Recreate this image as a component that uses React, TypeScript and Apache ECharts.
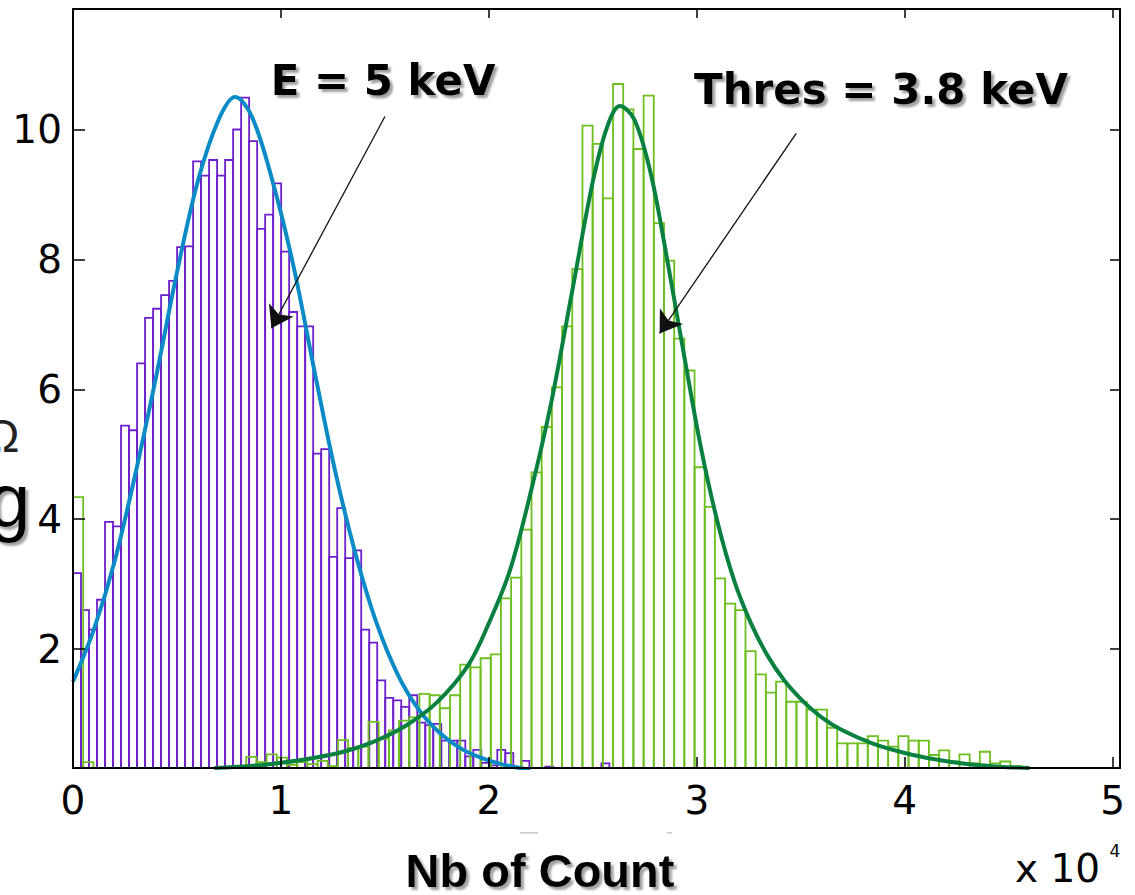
import React, { useEffect, useRef } from 'react';
import * as echarts from 'echarts';

// Histogram of the E = 5 keV data (purple), bins of 0.0385 (x 10^4) starting at 0
const purpleBinStart = 0;
const purpleBinWidth = 0.0385;
const purpleCounts = [
  3.17, 2.6, 2.3, 2.76, 3.96, 3.89, 5.44, 5.37, 6.4, 7.1,
  7.24, 7.45, 7.67, 8.19, 8.2, 9.51, 9.29, 9.53, 9.29, 9.53,
  10.0, 10.49, 9.82, 8.47, 8.69, 9.17, 8.12, 7.19, 6.97, 6.97,
  5.01, 5.08, 3.42, 4.17, 3.4, 3.52, 2.3, 2.1, 1.52, 1.25,
  1.21, 1.11, 1.29, 0.87, 0.83, 0.85, 0.59, 0.59, 0.59, 0.35,
  0.45, 0.25, 0.21, 0.45, 0.4, 0, 0.28, 0, 0, 0.19,
  0, 0, 0, 0, 0, 0, 0.24,
];

// Histogram of the Thres = 3.8 keV data (green), bins of 0.049 (x 10^4) starting at 0
const greenBinStart = 0;
const greenBinWidth = 0.049;
const greenCounts = [
  4.34, 0.26, 0, 0, 0, 0, 0, 0, 0, 0,
  0, 0, 0, 0, 0, 0, 0, 0.34, 0.26, 0.38,
  0.33, 0.22, 0.26, 0.23, 0.28, 0.2, 0.6, 0.48, 0.5, 0.88,
  0.62, 0.75, 0.9, 0.95, 1.31, 1.29, 1.09, 1.29, 1.76, 1.72,
  1.86, 1.92, 2.78, 3.1, 3.84, 4.72, 5.42, 6.03, 6.97, 7.85,
  10.06, 9.78, 8.94, 10.7, 10.31, 9.7, 10.52, 8.56, 7.98, 6.78,
  6.29, 4.8, 4.19, 3.09, 2.7, 2.6, 1.97, 1.61, 1.33, 1.5,
  1.19, 1.19, 1.07, 1.07, 0.79, 0.55, 0.55, 0.55, 0.66, 0.59,
  0.5, 0.66, 0.59, 0.59, 0.37, 0.44, 0.27, 0.38, 0.24, 0.42,
  0.24, 0.27, 0.2,
];

// Fitted curves
const blueFitX = [0, 0.1, 0.2, 0.3, 0.4, 0.5, 0.6, 0.7, 0.78, 0.86, 0.96, 1.06, 1.16, 1.26, 1.36, 1.46, 1.56, 1.66, 1.76, 1.86, 1.96, 2.06, 2.2];
const blueFitY = [1.5, 2.3, 3.35, 4.7, 6.2, 7.8, 9.2, 10.15, 10.5, 10.2, 9.2, 7.9, 6.3, 4.75, 3.45, 2.4, 1.62, 1.08, 0.72, 0.48, 0.33, 0.23, 0.14];

const greenFitX = [0.68, 0.85, 1.0, 1.15, 1.3, 1.45, 1.6, 1.75, 1.9, 2.0, 2.1, 2.2, 2.3, 2.4, 2.5, 2.57, 2.63, 2.7, 2.78, 2.86, 2.94, 3.02, 3.1, 3.18, 3.26, 3.34, 3.42, 3.51, 3.6, 3.7, 3.85, 4.0, 4.15, 4.3, 4.45, 4.6];
const greenFitY = [0.17, 0.2, 0.25, 0.32, 0.42, 0.58, 0.82, 1.18, 1.75, 2.4, 3.2, 4.4, 5.8, 7.5, 9.2, 10.05, 10.36, 10.15, 9.3, 7.95, 6.5, 5.1, 3.95, 3.05, 2.4, 1.9, 1.52, 1.2, 0.95, 0.75, 0.54, 0.4, 0.3, 0.23, 0.19, 0.17];

// Arrow annotations (data coordinates: [start], [tip])
const arrowE = [[1.5, 10.2], [0.954, 6.94]];
const arrowThres = [[3.478, 9.94], [2.821, 6.86]];

const xTicks = [0, 1, 2, 3, 4, 5];
const yTicks = [2, 4, 6, 8, 10];
const X_MIN = 0;
const X_MAX = 5.035;
const Y_MIN = 0.17;
const Y_MAX = 11.855;

const PURPLE = '#6C1FCB';
const LIGHTGREEN = '#6CBF1E';
const BLUE = '#0B8BC6';
const DARKGREEN = '#08803F';

function histSeries(name: string, counts: number[], start: number, width: number, color: string) {
  return {
    type: 'custom',
    name,
    clip: true,
    z: 2,
    data: counts.map((v, i) => [start + i * width, start + (i + 1) * width, v]),
    encode: { x: [0, 1], y: 2 },
    renderItem: (params: any, api: any) => {
      const v = api.value(2);
      if (!(v > Y_MIN)) return null;
      const a = api.coord([api.value(0), v]);
      const b = api.coord([api.value(1), 0]);
      return {
        type: 'rect',
        shape: { x: a[0], y: a[1], width: b[0] - a[0], height: b[1] - a[1] },
        style: { fill: 'none', stroke: color, lineWidth: 1.8 },
      };
    },
  };
}

const tickFont = { fontFamily: 'DejaVu Sans', fontSize: 39, color: '#000' };
const axisLineStyle = { color: '#000', width: 2 };
const textShadow = { textShadowColor: 'rgba(120,120,120,0.7)', textShadowOffsetX: 3, textShadowOffsetY: 3, textShadowBlur: 2 };

export default function App() {
  const ref = useRef<HTMLDivElement>(null);
  useEffect(() => {
    if (!ref.current) return;
    const chart = echarts.init(ref.current, undefined, { renderer: 'svg' });
    chart.setOption({
      animation: false,
      backgroundColor: '#fff',
      grid: { left: 73, right: 15, top: 9, bottom: 127, containLabel: false },
      xAxis: [
        {
          type: 'value', min: X_MIN, max: X_MAX, position: 'bottom', z: 5,
          axisLine: { show: true, onZero: false, lineStyle: axisLineStyle },
          axisTick: { show: true, inside: true, length: 11, customValues: xTicks, lineStyle: { color: '#000', width: 1.5 } },
          axisLabel: { show: true, margin: 13, customValues: xTicks, ...tickFont },
          splitLine: { show: false },
        },
        {
          type: 'value', min: X_MIN, max: X_MAX, position: 'top', z: 5,
          axisLine: { show: true, onZero: false, lineStyle: axisLineStyle },
          axisTick: { show: true, inside: true, length: 9, customValues: xTicks, lineStyle: { color: '#000', width: 1.5 } },
          axisLabel: { show: false },
          splitLine: { show: false },
        },
      ],
      yAxis: [
        {
          type: 'value', min: Y_MIN, max: Y_MAX, position: 'left', z: 5,
          axisLine: { show: true, onZero: false, lineStyle: axisLineStyle },
          axisTick: { show: true, inside: true, length: 12, customValues: yTicks, lineStyle: { color: '#000', width: 1.5 } },
          axisLabel: { show: true, margin: 11, customValues: yTicks, ...tickFont },
          splitLine: { show: false },
        },
        {
          type: 'value', min: Y_MIN, max: Y_MAX, position: 'right', z: 5,
          axisLine: { show: true, onZero: false, lineStyle: axisLineStyle },
          axisTick: { show: true, inside: true, length: 10, customValues: yTicks, lineStyle: { color: '#000', width: 1.5 } },
          axisLabel: { show: false },
          splitLine: { show: false },
        },
      ],
      series: [
        histSeries('E = 5 keV', purpleCounts, purpleBinStart, purpleBinWidth, PURPLE),
        histSeries('Thres = 3.8 keV', greenCounts, greenBinStart, greenBinWidth, LIGHTGREEN),
        {
          type: 'line', name: 'fit E', z: 3, clip: true,
          data: blueFitX.map((x, i) => [x, blueFitY[i]]),
          smooth: 0.35, symbol: 'none',
          lineStyle: { color: BLUE, width: 4 },
          markLine: {
            silent: true, symbol: ['none', 'arrow'], symbolSize: 21, label: { show: false },
            lineStyle: { color: '#111', width: 1.3, type: 'solid' },
            emphasis: { disabled: true },
            data: [
              [{ coord: arrowE[0] }, { coord: arrowE[1] }],
              [{ coord: arrowThres[0] }, { coord: arrowThres[1] }],
            ],
          },
        },
        {
          type: 'line', name: 'fit Thres', z: 3, clip: true,
          data: greenFitX.map((x, i) => [x, greenFitY[i]]),
          smooth: 0.35, symbol: 'none',
          lineStyle: { color: DARKGREEN, width: 4 },
        },
      ],
      graphic: [
        { type: 'text', x: 383, y: 80, z: 10, style: { text: 'E = 5 keV', fontFamily: 'DejaVu Sans', fontWeight: 'bold', fontSize: 42, fill: '#000', align: 'center', verticalAlign: 'middle', ...textShadow } },
        { type: 'text', x: 881, y: 89, z: 10, style: { text: 'Thres = 3.8 keV', fontFamily: 'DejaVu Sans', fontWeight: 'bold', fontSize: 42, fill: '#000', align: 'center', verticalAlign: 'middle', ...textShadow } },
        { type: 'text', x: 540, y: 870, z: 10, style: { text: 'Nb of Count', fontFamily: 'Liberation Sans', fontWeight: 'bold', fontSize: 47, lineHeight: 44, fill: '#000', align: 'center', verticalAlign: 'middle', ...textShadow } },
        { type: 'text', x: 1015, y: 868, z: 10, style: { text: 'x 10', fontFamily: 'DejaVu Sans', fontSize: 39, fill: '#000', align: 'left', verticalAlign: 'middle' } },
        { type: 'text', x: 1115, y: 851, z: 10, style: { text: '4', fontFamily: 'DejaVu Sans', fontSize: 17, fill: '#000', align: 'center', verticalAlign: 'middle' } },
        { type: 'text', x: -12, y: 500, z: 10, style: { text: 'g', fontFamily: 'Liberation Sans', fontSize: 76, fill: '#000', align: 'left', verticalAlign: 'middle', ...textShadow } },
        { type: 'text', x: -15, y: 436, z: 10, style: { text: 'Ω', fontFamily: 'Liberation Sans', fontSize: 46, fill: '#222', align: 'left', verticalAlign: 'middle' } },
        { type: 'rect', z: 10, shape: { x: 520, y: 832, width: 18, height: 1.5 }, style: { fill: '#c8c8c8' } },
        { type: 'rect', z: 10, shape: { x: 667, y: 832, width: 5, height: 1.5 }, style: { fill: '#c8c8c8' } },
      ],
    });
    return () => chart.dispose();
  }, []);
  return (
    <div
      ref={ref}
      style={{ position: 'fixed', left: 0, top: 0, width: 1135, height: 895, background: '#fff' }}
    />
  );
}
